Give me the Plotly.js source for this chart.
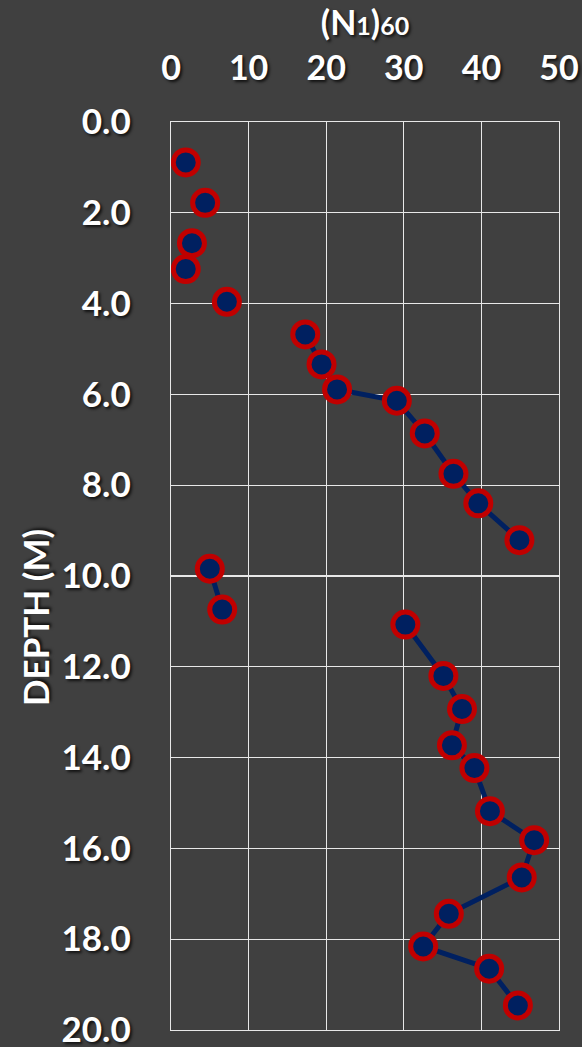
<!DOCTYPE html>
<html><head><meta charset="utf-8">
<script src="https://cdn.plot.ly/plotly-3.0.1.min.js"></script>
<style>html,body{margin:0;padding:0;background:#404040;}</style>
</head><body><div id="chart" style="width:582px;height:1047px;"></div>
<script>
// (N1)60 values and depths (m)
const n160  = [1.9, 4.4, 2.7, 1.9, 7.2, 17.3, 19.4, 21.4, 29.1, 32.7, 36.4, 39.6, 44.9, 5.0, 6.6, 30.2, 35.1, 37.5, 36.2, 39.1, 41.1, 46.8, 45.2, 35.8, 32.5, 41.0, 44.7];
const depth = [0.89, 1.78, 2.67, 3.24, 3.96, 4.68, 5.34, 5.89, 6.14, 6.86, 7.75, 8.40, 9.21, 9.84, 10.74, 11.07, 12.2, 12.93, 13.73, 14.23, 15.18, 15.82, 16.64, 17.44, 18.16, 18.65, 19.46];
// indices after which the connecting line is interrupted
const breakAfter = [0, 1, 2, 3, 4, 12, 14];
const xTicks = [0, 10, 20, 30, 40, 50];
const yTicks = [0, 2, 4, 6, 8, 10, 12, 14, 16, 18, 20];

const lx = [], ly = [];
n160.forEach((v, i) => {
  lx.push(v); ly.push(depth[i]);
  if (breakAfter.includes(i)) { lx.push(null); ly.push(null); }
});

const FONT = 'Lato, "Open Sans", sans-serif';
const SH = '2px 2px 3px rgba(0,0,0,0.75)';
const GRID = '#e8e8e8';

const traces = [
  {x: lx, y: ly, mode: 'lines+markers', connectgaps: false,
   line: {color: '#002060', width: 5},
   marker: {size: 25, color: '#002060', line: {color: '#C00000', width: 5}},
   hoverinfo: 'x+y', showlegend: false}
];

const layout = {
  width: 582, height: 1047,
  paper_bgcolor: '#404040', plot_bgcolor: '#404040',
  margin: {l: 171, r: 23, t: 122, b: 17},
  font: {family: FONT, color: '#ffffff'},
  xaxis: {range: [0, 50], tickvals: xTicks, side: 'top',
          showgrid: true, gridcolor: GRID, gridwidth: 1.3,
          showline: true, linecolor: GRID, linewidth: 1.3, mirror: true,
          zeroline: false, ticks: '', ticklabelstandoff: 27, ticklabeloverflow: 'allow',
          tickfont: {family: FONT, size: 34, weight: 'bold', color: '#ffffff', shadow: SH},
          title: {text: '(N<span style="font-size:25px">1</span>)<span style="font-size:25px">60</span>', standoff: 0,
                  font: {family: FONT, size: 34, weight: 'bold', color: '#ffffff', shadow: SH}}},
  yaxis: {range: [20, 0], tickvals: yTicks, tickformat: '.1f',
          showgrid: true, gridcolor: GRID, gridwidth: 1.3,
          showline: true, linecolor: GRID, linewidth: 1.3, mirror: true,
          zeroline: false, ticks: '', ticklabelstandoff: 32, ticklabeloverflow: 'allow',
          tickfont: {family: FONT, size: 35, weight: 'bold', color: '#ffffff', shadow: SH}},
  annotations: [{text: 'DEPTH (M)', xref: 'paper', yref: 'paper',
                 x: -0.3505, y: 0.4537, xanchor: 'center', yanchor: 'middle',
                 textangle: -90, showarrow: false,
                 font: {family: FONT, size: 35, weight: 'bold', color: '#ffffff', shadow: SH}}]
};

Plotly.newPlot('chart', traces, layout, {displayModeBar: false, staticPlot: true});
</script></body></html>
